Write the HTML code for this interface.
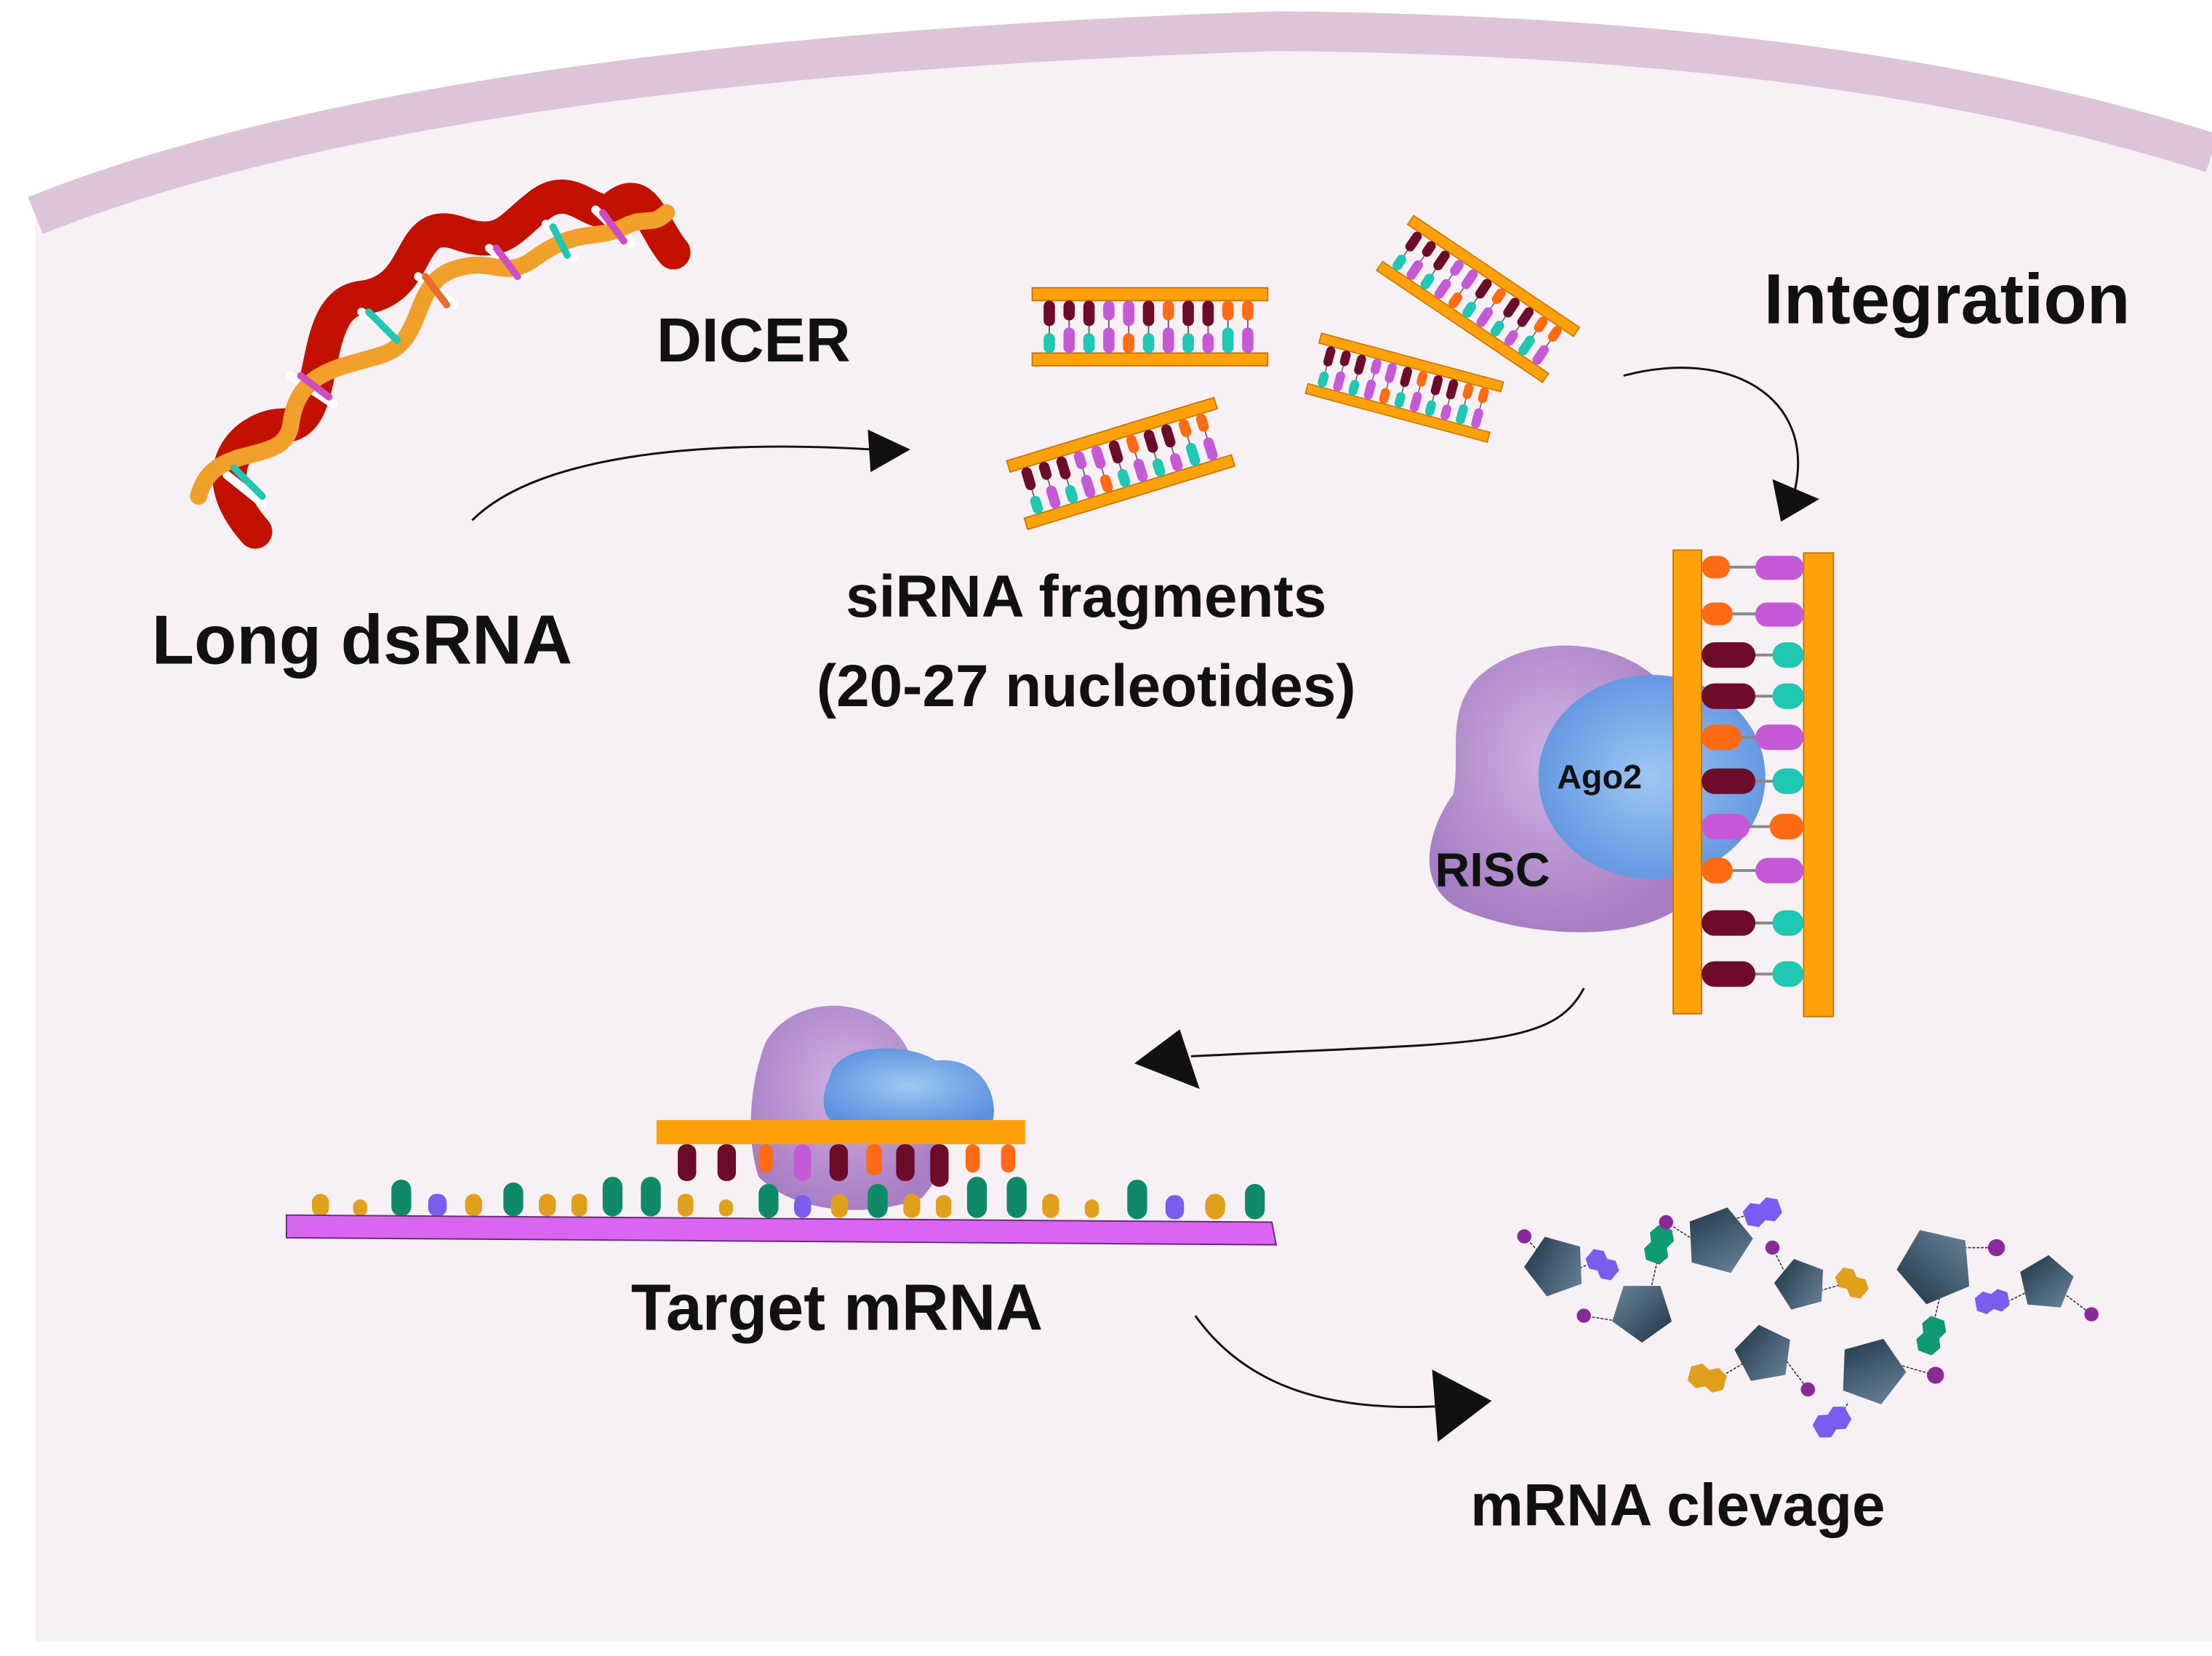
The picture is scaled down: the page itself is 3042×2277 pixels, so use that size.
<!DOCTYPE html>
<html><head><meta charset="utf-8"><style>
html,body{margin:0;padding:0;background:#fff;}
svg{display:block;}
text{font-family:"Liberation Sans",sans-serif;font-weight:bold;fill:#111;}
</style></head><body>
<svg width="3042" height="2277" viewBox="0 0 1560 1168" preserveAspectRatio="none" xmlns="http://www.w3.org/2000/svg">
<defs>
<linearGradient id="pg" x1="0" y1="0" x2="1" y2="1"><stop offset="0" stop-color="#1e3346"/><stop offset="1" stop-color="#6a859c"/></linearGradient>
<radialGradient id="rp" cx="0.5" cy="0.4" r="0.6"><stop offset="0" stop-color="#d2b2e2"/><stop offset="1" stop-color="#a77dc4"/></radialGradient>
<radialGradient id="rb" cx="0.5" cy="0.5" r="0.6"><stop offset="0" stop-color="#9ec8f2"/><stop offset="1" stop-color="#5b8fe0"/></radialGradient>
<g id="frag">
<rect x="0" y="0" width="166" height="9" fill="#ffa10a" stroke="#c97800" stroke-width="1"/>
<rect x="0" y="46" width="166" height="9" fill="#ffa10a" stroke="#c97800" stroke-width="1"/>
<g stroke="#666" stroke-width="1">
<line x1="12" y1="9" x2="12" y2="46"/><line x1="26" y1="9" x2="26" y2="46"/><line x1="40" y1="9" x2="40" y2="46"/><line x1="54" y1="9" x2="54" y2="46"/><line x1="68" y1="9" x2="68" y2="46"/><line x1="82" y1="9" x2="82" y2="46"/><line x1="96" y1="9" x2="96" y2="46"/><line x1="110" y1="9" x2="110" y2="46"/><line x1="124" y1="9" x2="124" y2="46"/><line x1="138" y1="9" x2="138" y2="46"/><line x1="152" y1="9" x2="152" y2="46"/>
</g>
<g>
<rect x="8" y="9" width="8" height="18" rx="4" fill="#6e0b2a"/><rect x="8" y="32" width="8" height="14" rx="4" fill="#1fc7b5"/>
<rect x="22" y="9" width="8" height="14" rx="4" fill="#6e0b2a"/><rect x="22" y="28" width="8" height="18" rx="4" fill="#c659d8"/>
<rect x="36" y="9" width="8" height="18" rx="4" fill="#6e0b2a"/><rect x="36" y="32" width="8" height="14" rx="4" fill="#1fc7b5"/>
<rect x="50" y="9" width="8" height="14" rx="4" fill="#c659d8"/><rect x="50" y="28" width="8" height="18" rx="4" fill="#c659d8"/>
<rect x="64" y="9" width="8" height="18" rx="4" fill="#c659d8"/><rect x="64" y="32" width="8" height="14" rx="4" fill="#ff6a13"/>
<rect x="78" y="9" width="8" height="18" rx="4" fill="#6e0b2a"/><rect x="78" y="32" width="8" height="14" rx="4" fill="#1fc7b5"/>
<rect x="92" y="9" width="8" height="14" rx="4" fill="#ff6a13"/><rect x="92" y="28" width="8" height="18" rx="4" fill="#c659d8"/>
<rect x="106" y="9" width="8" height="18" rx="4" fill="#6e0b2a"/><rect x="106" y="32" width="8" height="14" rx="4" fill="#1fc7b5"/>
<rect x="120" y="9" width="8" height="18" rx="4" fill="#6e0b2a"/><rect x="120" y="32" width="8" height="14" rx="4" fill="#c659d8"/>
<rect x="134" y="9" width="8" height="14" rx="4" fill="#ff6a13"/><rect x="134" y="28" width="8" height="18" rx="4" fill="#1fc7b5"/>
<rect x="148" y="9" width="8" height="14" rx="4" fill="#ff6a13"/><rect x="148" y="28" width="8" height="18" rx="4" fill="#c659d8"/>
</g>
</g>
<polygon id="pent" points="0,-22 21,-7 13,18 -13,18 -21,-7" fill="url(#pg)"/>
<g id="dh"><polygon points="-6,-9 2,-5 2,5 -6,9 -13,5 -13,-5"/><polygon points="6,-9 13,-5 13,5 6,9 -2,5 -2,-5"/></g>
</defs>
<rect width="1560" height="1168" fill="#fff"/>
<!-- cell -->
<path d="M25,155 Q300,45 900,25 Q1300,28 1560,112 L1560,1158 L25,1158 Z" fill="#f7f0f4"/>
<path d="M25,152 Q300,42 900,22 Q1300,25 1560,108" fill="none" stroke="#dcc4d9" stroke-width="28"/>
<!-- helix -->
<g fill="none" stroke-linecap="round">
<path d="M180,375 C140,330 175,300 200,300 C235,300 215,215 255,210 C300,205 285,150 325,165 C355,175 360,160 380,145 C405,125 420,160 435,145 C455,130 460,160 475,178" stroke="#c41000" stroke-width="24"/>
<g stroke-width="6"><line x1="160" y1="335" x2="185" y2="355" stroke="#fff"/><line x1="205" y1="265" x2="235" y2="285" stroke="#fff"/><line x1="255" y1="220" x2="285" y2="240" stroke="#fff"/><line x1="295" y1="195" x2="320" y2="215" stroke="#fff"/><line x1="345" y1="175" x2="370" y2="195" stroke="#fff"/><line x1="385" y1="158" x2="405" y2="182" stroke="#fff"/><line x1="420" y1="148" x2="445" y2="172" stroke="#fff"/></g>
<path d="M140,350 C150,310 200,330 205,300 C210,260 240,260 270,250 C300,240 290,200 320,190 C350,180 355,200 380,180 C410,160 420,170 440,160 C455,152 460,160 470,150" stroke="#f1a02a" stroke-width="12"/>
<g stroke-width="5"><line x1="165" y1="330" x2="185" y2="350" stroke="#1fc7b5"/><line x1="212" y1="265" x2="232" y2="280" stroke="#d04cc5"/><line x1="260" y1="220" x2="280" y2="240" stroke="#1fc7b5"/><line x1="300" y1="195" x2="315" y2="215" stroke="#e96b2d"/><line x1="350" y1="175" x2="365" y2="195" stroke="#d04cc5"/><line x1="390" y1="160" x2="400" y2="180" stroke="#1fc7b5"/><line x1="425" y1="150" x2="440" y2="170" stroke="#d04cc5"/></g>
</g>
<!-- siRNA fragments -->
<use href="#frag" transform="translate(728,203)"/>
<use href="#frag" transform="translate(710,325) rotate(-17) scale(0.92)"/>
<use href="#frag" transform="translate(932,235) rotate(15) scale(0.8)"/>
<use href="#frag" transform="translate(997,152) rotate(34) scale(0.85)"/>
<!-- arrows -->
<g fill="none" stroke="#111" stroke-width="1.5">
<path d="M333,367 C380,320 500,310 615,317"/>
<path d="M1145,265 C1220,245 1280,280 1266,345"/>
<path d="M1117,697 C1095,740 1040,735 840,745"/>
<path d="M843,928 C880,980 940,995 1012,992"/>
</g>
<g fill="#111">
<polygon points="612,303 642,317 614,333"/>
<polygon points="1250,338 1283,352 1256,368"/>
<polygon points="832,726 800,750 846,768"/>
<polygon points="1010,966 1052,988 1014,1017"/>
</g>
<!-- RISC complex -->
<path d="M1040,480 C1080,440 1160,450 1185,500 L1185,640 C1150,665 1080,660 1040,645 C990,630 1010,580 1025,560 C1030,530 1020,505 1040,480 Z" fill="url(#rp)"/>
<ellipse cx="1165" cy="548" rx="80" ry="72" fill="url(#rb)"/>
<rect x="1180" y="388" width="20" height="327" fill="#ffa10a" stroke="#c97800"/>
<rect x="1272" y="390" width="21" height="327" fill="#ffa10a" stroke="#c97800"/>
<g>
<g stroke="#888" stroke-width="2"><line x1="1200" y1="400" x2="1272" y2="400"/><line x1="1200" y1="433" x2="1272" y2="433"/><line x1="1200" y1="462" x2="1272" y2="462"/><line x1="1200" y1="491" x2="1272" y2="491"/><line x1="1200" y1="520" x2="1272" y2="520"/><line x1="1200" y1="551" x2="1272" y2="551"/><line x1="1200" y1="583" x2="1272" y2="583"/><line x1="1200" y1="614" x2="1272" y2="614"/><line x1="1200" y1="651" x2="1272" y2="651"/><line x1="1200" y1="687" x2="1272" y2="687"/></g>
<rect x="1200" y="392" width="20" height="16" rx="8" fill="#ff6a13"/><rect x="1238" y="392" width="34" height="17" rx="8" fill="#c659d8"/>
<rect x="1200" y="425" width="22" height="16" rx="8" fill="#ff6a13"/><rect x="1238" y="425" width="34" height="17" rx="8" fill="#c659d8"/>
<rect x="1200" y="453" width="38" height="18" rx="9" fill="#6e0b2a"/><rect x="1250" y="453" width="22" height="18" rx="9" fill="#1fc7b5"/>
<rect x="1200" y="482" width="38" height="18" rx="9" fill="#6e0b2a"/><rect x="1250" y="482" width="22" height="18" rx="9" fill="#1fc7b5"/>
<rect x="1200" y="511" width="28" height="18" rx="9" fill="#ff6a13"/><rect x="1238" y="511" width="34" height="18" rx="9" fill="#c659d8"/>
<rect x="1200" y="542" width="38" height="18" rx="9" fill="#6e0b2a"/><rect x="1250" y="542" width="22" height="18" rx="9" fill="#1fc7b5"/>
<rect x="1200" y="574" width="34" height="18" rx="9" fill="#c659d8"/><rect x="1248" y="574" width="24" height="18" rx="9" fill="#ff6a13"/>
<rect x="1200" y="605" width="22" height="18" rx="9" fill="#ff6a13"/><rect x="1238" y="605" width="34" height="18" rx="9" fill="#c659d8"/>
<rect x="1200" y="642" width="38" height="18" rx="9" fill="#6e0b2a"/><rect x="1250" y="642" width="22" height="18" rx="9" fill="#1fc7b5"/>
<rect x="1200" y="678" width="38" height="18" rx="9" fill="#6e0b2a"/><rect x="1250" y="678" width="22" height="18" rx="9" fill="#1fc7b5"/>
</g>
<!-- Target complex -->
<path d="M540,735 C560,700 620,700 640,740 C660,780 675,820 650,845 C610,860 560,855 535,830 C525,800 530,760 540,735 Z" fill="url(#rp)"/>
<path d="M585,760 C590,735 640,735 660,748 C690,745 705,770 700,792 L588,792 C578,785 580,770 585,760 Z" fill="url(#rb)"/>
<rect x="463" y="790" width="260" height="17" fill="#ffa10a"/>
<g>
<rect x="478" y="807" width="13" height="26" rx="6" fill="#6e0b2a"/><rect x="506" y="807" width="13" height="26" rx="6" fill="#6e0b2a"/><rect x="535" y="807" width="10" height="20" rx="5" fill="#ff6a13"/><rect x="560" y="807" width="12" height="26" rx="6" fill="#c659d8"/><rect x="585" y="807" width="13" height="26" rx="6" fill="#6e0b2a"/><rect x="611" y="807" width="11" height="22" rx="5" fill="#ff6a13"/><rect x="632" y="807" width="13" height="26" rx="6" fill="#6e0b2a"/><rect x="656" y="807" width="13" height="30" rx="6" fill="#6e0b2a"/><rect x="681" y="807" width="10" height="20" rx="5" fill="#ff6a13"/><rect x="706" y="807" width="10" height="20" rx="5" fill="#ff6a13"/>
</g>
<g>
<rect x="220" y="842" width="12" height="16" rx="6" fill="#e0a01c"/><rect x="249" y="846" width="10" height="12" rx="5" fill="#e0a01c"/><rect x="276" y="832" width="14" height="26" rx="7" fill="#0e8a68"/><rect x="302" y="842" width="13" height="16" rx="6" fill="#7a5cf0"/><rect x="328" y="842" width="12" height="16" rx="6" fill="#e0a01c"/><rect x="355" y="834" width="14" height="24" rx="7" fill="#0e8a68"/><rect x="380" y="842" width="12" height="16" rx="6" fill="#e0a01c"/><rect x="403" y="842" width="11" height="16" rx="5" fill="#e0a01c"/><rect x="425" y="830" width="14" height="28" rx="7" fill="#0e8a68"/><rect x="452" y="830" width="14" height="28" rx="7" fill="#0e8a68"/><rect x="478" y="842" width="11" height="16" rx="5" fill="#e0a01c"/><rect x="507" y="846" width="10" height="12" rx="5" fill="#e0a01c"/><rect x="535" y="835" width="14" height="24" rx="7" fill="#0e8a68"/><rect x="560" y="843" width="12" height="16" rx="6" fill="#7a5cf0"/><rect x="586" y="842" width="12" height="17" rx="6" fill="#e0a01c"/><rect x="612" y="835" width="14" height="24" rx="7" fill="#0e8a68"/><rect x="637" y="842" width="12" height="17" rx="6" fill="#e0a01c"/><rect x="660" y="843" width="11" height="16" rx="5" fill="#e0a01c"/><rect x="682" y="830" width="14" height="29" rx="7" fill="#0e8a68"/><rect x="710" y="830" width="14" height="29" rx="7" fill="#0e8a68"/><rect x="735" y="842" width="12" height="17" rx="6" fill="#e0a01c"/><rect x="765" y="846" width="10" height="13" rx="5" fill="#e0a01c"/><rect x="795" y="832" width="14" height="28" rx="7" fill="#0e8a68"/><rect x="822" y="843" width="13" height="17" rx="6" fill="#7a5cf0"/><rect x="850" y="842" width="14" height="18" rx="7" fill="#e0a01c"/><rect x="878" y="835" width="14" height="25" rx="7" fill="#0e8a68"/>
</g>
<polygon points="202,857 897,862 900,878 202,873" fill="#d966f0" stroke="#6a2a7a" stroke-width="1"/>
<!-- cleaved fragments -->
<g stroke="#333" stroke-width="0.8" stroke-dasharray="2,1" fill="none">
<path d="M1075,872 L1090,888 M1100,900 L1125,890 M1175,862 L1200,878 M1170,884 L1163,915 M1117,928 L1142,932 M1222,860 L1240,855 M1250,880 L1260,900 M1278,912 L1302,905 M1385,880 L1408,880 M1368,915 L1362,940 M1428,912 L1408,922 M1455,912 L1475,927 M1232,960 L1212,972 M1260,960 L1275,980 M1330,960 L1365,970 M1303,990 L1295,1005"/>
</g>
<use href="#pent" transform="translate(1097,893) rotate(-20)"/>
<use href="#pent" transform="translate(1158,925) rotate(180)"/>
<use href="#pent" transform="translate(1212,875) rotate(15) scale(1.1)"/>
<use href="#pent" transform="translate(1270,906) rotate(-15) scale(0.85)"/>
<use href="#pent" transform="translate(1365,893) rotate(-95) scale(1.25)"/>
<use href="#pent" transform="translate(1443,905) rotate(5) scale(0.9)"/>
<use href="#pent" transform="translate(1244,955) rotate(-10) scale(0.95)"/>
<use href="#pent" transform="translate(1320,967) rotate(20) scale(1.1)"/>
<use href="#dh" fill="#7a5cf0" transform="translate(1130,892) rotate(40) scale(0.9)"/>
<use href="#dh" fill="#0e9a72" transform="translate(1170,878) rotate(-70)"/>
<use href="#dh" fill="#7a5cf0" transform="translate(1243,855) rotate(-20)"/>
<use href="#dh" fill="#e0a01c" transform="translate(1306,905) rotate(40) scale(0.9)"/>
<use href="#dh" fill="#7a5cf0" transform="translate(1405,918) rotate(-10) scale(0.9)"/>
<use href="#dh" fill="#0e9a72" transform="translate(1362,942) rotate(-70)"/>
<use href="#dh" fill="#e0a01c" transform="translate(1204,972) rotate(15)"/>
<use href="#dh" fill="#7a5cf0" transform="translate(1292,1003) rotate(-30)"/>
<g fill="#8a2a9a">
<circle cx="1075" cy="872" r="5"/><circle cx="1175" cy="862" r="5"/><circle cx="1250" cy="880" r="5"/><circle cx="1408" cy="880" r="6"/><circle cx="1117" cy="928" r="5"/><circle cx="1475" cy="927" r="5"/><circle cx="1275" cy="980" r="5"/><circle cx="1365" cy="970" r="6"/>
</g>
<!-- labels -->
<text x="107" y="468" font-size="49">Long dsRNA</text>
<text x="463" y="255" font-size="44">DICER</text>
<text x="1244" y="228" font-size="50">Integration</text>
<text x="766" y="435" font-size="42" text-anchor="middle">siRNA fragments</text>
<text x="766" y="498" font-size="42" text-anchor="middle">(20-27 nucleotides)</text>
<text x="1098" y="556" font-size="24">Ago2</text>
<text x="1012" y="625" font-size="34">RISC</text>
<text x="445" y="938" font-size="46">Target mRNA</text>
<text x="1037" y="1076" font-size="42">mRNA clevage</text>
</svg>
</body></html>
